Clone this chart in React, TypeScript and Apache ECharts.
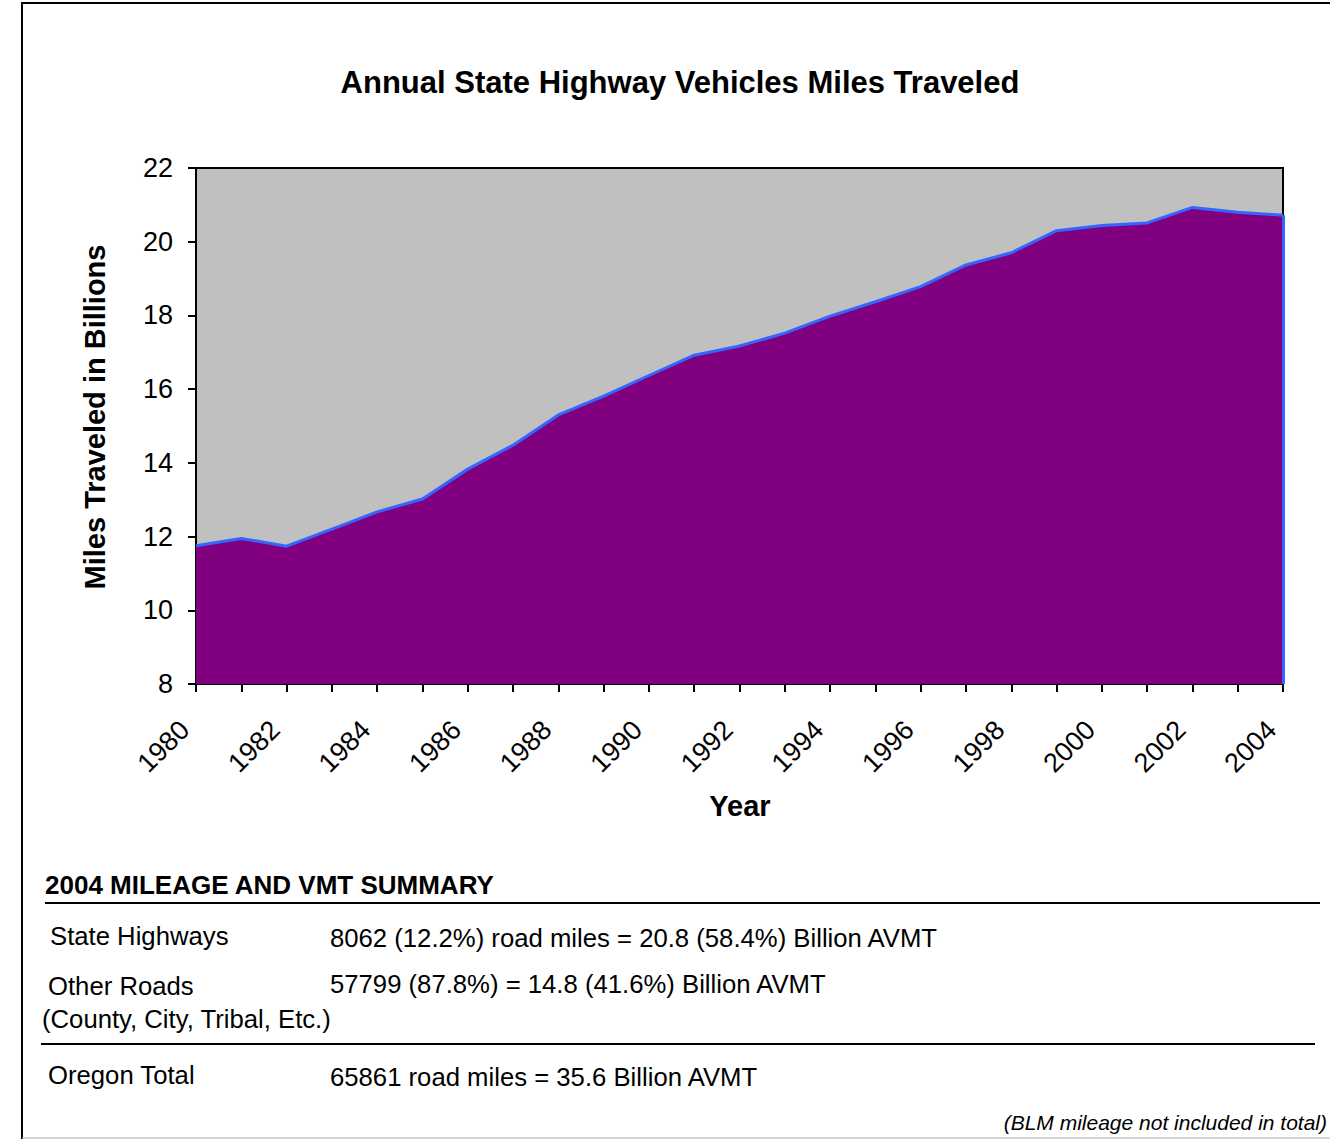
import React, { useEffect, useRef } from "react";
import * as echarts from "echarts";

const years = [
  "1980", "1981", "1982", "1983", "1984", "1985", "1986", "1987", "1988", "1989",
  "1990", "1991", "1992", "1993", "1994", "1995", "1996", "1997", "1998", "1999",
  "2000", "2001", "2002", "2003", "2004",
];
const vmtBillions = [
  11.75, 11.95, 11.74, 12.2, 12.67, 13.02, 13.83, 14.48, 15.3, 15.81,
  16.37, 16.92, 17.17, 17.52, 17.98, 18.37, 18.78, 19.37, 19.7, 20.3,
  20.44, 20.51, 20.93, 20.8, 20.72,
];
const yMin = 8;
const yMax = 22;
const yStep = 2;

const titleText = "Annual State Highway Vehicles Miles Traveled";
const yAxisTitle = "Miles Traveled in Billions";
const xAxisTitle = "Year";

const summaryHeading = "2004 MILEAGE AND VMT SUMMARY";
const summaryLabels = ["State Highways", "Other Roads", "(County, City, Tribal, Etc.)", "Oregon Total"];
const summaryValues = [
  "8062 (12.2%) road miles = 20.8 (58.4%) Billion AVMT",
  "57799 (87.8%) = 14.8 (41.6%) Billion AVMT",
  "65861 road miles = 35.6 Billion AVMT",
];
const footnote = "(BLM mileage not included in total)";

const FONT = "'Liberation Sans', Arial, Helvetica, sans-serif";
const PURPLE = "#800080";
const GREY = "#C0C0C0";
const BLUE = "#3366FF";

export default function App() {
  const ref = useRef<HTMLDivElement>(null);

  useEffect(() => {
    document.body.style.margin = "0";
    const chart = echarts.init(ref.current!, undefined, { renderer: "svg" });
    const txt = (text: string, x: number, y: number, extra: any = {}) => ({
      type: "text",
      x,
      y,
      style: {
        text,
        fill: "#000",
        font: `25.7px ${FONT}`,
        textVerticalAlign: "middle",
        ...extra,
      },
    });
    const hline = (x1: number, x2: number, y: number, w: number, c = "#000") => ({
      type: "line",
      shape: { x1, y1: y, x2, y2: y },
      style: { stroke: c, lineWidth: w },
    });

    const option: any = {
      animation: false,
      backgroundColor: "#fff",
      title: {
        text: titleText,
        left: 675,
        top: 62,
        textAlign: "center",
        textStyle: { fontFamily: FONT, fontWeight: "bold", fontSize: 31, color: "#000" },
      },
      grid: {
        left: 196,
        top: 168,
        right: 47,
        bottom: 455,
        show: true,
        backgroundColor: GREY,
        borderColor: "#000",
        borderWidth: 2,
      },
      xAxis: {
        type: "category",
        data: years,
        boundaryGap: false,
        axisLine: { show: true, lineStyle: { color: "#000", width: 2 } },
        axisTick: { show: true, interval: 0, length: 8, lineStyle: { color: "#000", width: 2 } },
        axisLabel: {
          interval: 1,
          rotate: 45,
          margin: 30,
          color: "#000",
          fontFamily: FONT,
          fontSize: 27,
          padding: [0, 16, 0, 0],
        },
        splitLine: { show: false },
      },
      yAxis: {
        type: "value",
        min: yMin,
        max: yMax,
        interval: yStep,
        axisLine: { show: true, lineStyle: { color: "#000", width: 2 } },
        axisTick: { show: true, length: 8, lineStyle: { color: "#000", width: 2 } },
        axisLabel: { margin: 23, color: "#000", fontFamily: FONT, fontSize: 27 },
        splitLine: { show: false },
      },
      series: [
        {
          type: "line",
          data: vmtBillions,
          symbol: "none",
          lineStyle: { color: BLUE, width: 3 },
          areaStyle: { color: PURPLE, opacity: 1, origin: "start" },
          z: 2,
          markLine: {
            silent: true,
            symbol: "none",
            label: { show: false },
            lineStyle: { color: BLUE, width: 3, type: "solid" },
            data: [
              [
                { coord: [years[years.length - 1], yMin] },
                { coord: [years[years.length - 1], vmtBillions[vmtBillions.length - 1]] },
              ],
            ],
          },
        },
      ],
      graphic: [
        hline(21, 1330, 3, 2),
        { type: "line", shape: { x1: 22, y1: 2, x2: 22, y2: 1139 }, style: { stroke: "#000", lineWidth: 2 } },
        hline(22, 1330, 1138, 1, "#aaa"),
        {
          type: "text",
          x: 95,
          y: 417,
          rotation: Math.PI / 2,
          style: {
            text: yAxisTitle,
            fill: "#000",
            font: `bold 29px ${FONT}`,
            textAlign: "center",
            textVerticalAlign: "middle",
          },
        },
        txt(xAxisTitle, 740, 806, { font: `bold 29px ${FONT}`, textAlign: "center" }),
        txt(summaryHeading, 45, 885, { font: `bold 26px ${FONT}` }),
        hline(45, 1320, 903, 2),
        txt(summaryLabels[0], 50, 936),
        txt(summaryValues[0], 330, 938),
        txt(summaryLabels[1], 48, 986),
        txt(summaryValues[1], 330, 984),
        txt(summaryLabels[2], 42, 1019),
        hline(41, 1315, 1044, 2),
        txt(summaryLabels[3], 48, 1075),
        txt(summaryValues[2], 330, 1077),
        txt(footnote, 1327, 1122, { font: `italic 21px ${FONT}`, textAlign: "right" }),
      ],
    };
    chart.setOption(option);
    return () => chart.dispose();
  }, []);

  return (
    <div
      ref={ref}
      style={{ position: "absolute", left: 0, top: 0, width: 1330, height: 1139 }}
    />
  );
}
